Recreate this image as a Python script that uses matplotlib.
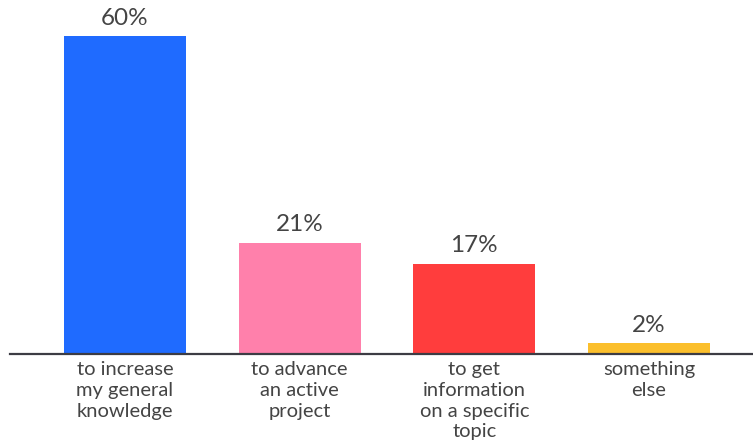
import matplotlib.pyplot as plt

# survey answers
categories = ["to increase\nmy general\nknowledge",
              "to advance\nan active\nproject",
              "to get\ninformation\non a specific\ntopic",
              "something\nelse"]
values = [60, 21, 17, 2]
labels = ["60%", "21%", "17%", "2%"]
colors = ["#1f6bff", "#ff80ab", "#ff3d3d", "#fbbf2c"]

plt.rcParams['font.family'] = ['Lato', 'DejaVu Sans']

fig = plt.figure(figsize=(7.53, 4.47), dpi=100)
ax = fig.add_axes([10 / 753, 93 / 447, 743 / 753, 354 / 447])

x = range(len(values))
ax.bar(x, values, width=0.7, color=colors)

for xi, v, lab in zip(x, values, labels):
    ax.text(xi, v + 1.4, lab, ha="center", va="bottom",
            fontsize=17.5, color="#444444")

ax.set_xlim(-0.658, 3.595)
ax.set_ylim(0, 66.8)

ax.set_xticks(list(x))
ax.set_xticklabels(categories, fontsize=14.5, color="#444444", linespacing=1.27)
ax.tick_params(axis="x", length=0, pad=5)
ax.set_yticks([])

for s in ["top", "left", "right"]:
    ax.spines[s].set_visible(False)
ax.spines["bottom"].set_color("#3c3c44")
ax.spines["bottom"].set_linewidth(1.6)

fig.savefig("out.png", dpi=100)
